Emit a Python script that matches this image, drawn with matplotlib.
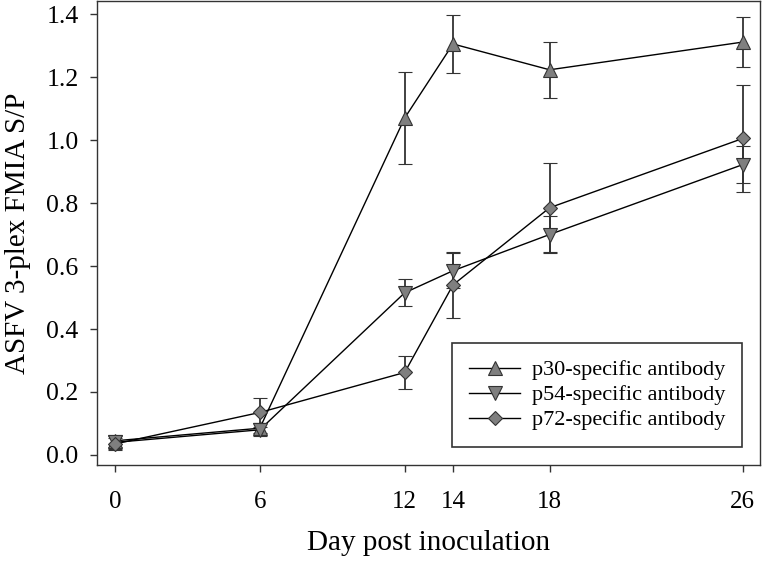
import numpy as np
import matplotlib.pyplot as plt

plt.rcParams['font.family'] = ['Liberation Serif', 'DejaVu Serif']

days = [0, 6, 12, 14, 18, 26]

p30 = [0.045, 0.085, 1.07, 1.305, 1.223, 1.311]
p30_err = [0.02, 0.015, 0.147, 0.093, 0.088, 0.08]

p54 = [0.04, 0.08, 0.515, 0.585, 0.70, 0.922]
p54_err = [0.02, 0.02, 0.043, 0.055, 0.06, 0.058]

p72 = [0.035, 0.135, 0.262, 0.54, 0.785, 1.005]
p72_err = [0.018, 0.045, 0.053, 0.105, 0.142, 0.17]

xticks = [0, 6, 12, 14, 18, 26]
yticks = [0.0, 0.2, 0.4, 0.6, 0.8, 1.0, 1.2, 1.4]

fig = plt.figure(figsize=(7.62, 5.61), dpi=100)
ax = fig.add_axes([0.127, 0.171, 0.870, 0.827])

series = [
    (p30, p30_err, '^', 'p30-specific antibody'),
    (p54, p54_err, 'v', 'p54-specific antibody'),
    (p72, p72_err, 'D', 'p72-specific antibody'),
]
for vals, err, mk, lab in series:
    ms = 7 if mk == 'D' else 9.5
    ax.errorbar(days, vals, yerr=err, color='black', lw=1.0,
                ecolor='#333333', elinewidth=1.3, capsize=5, capthick=1.3,
                marker=mk, markersize=ms, markerfacecolor='#7f7f7f',
                markeredgecolor='#333333', markeredgewidth=0.8, label=lab)

ax.set_xlim(-0.75, 26.7)
ax.set_ylim(-0.032, 1.441)
ax.set_xticks(xticks)
ax.set_yticks(yticks)
ax.set_yticklabels(['%.1f' % v for v in yticks])
ax.tick_params(direction='out', length=5, width=1, color='#333333')
ax.tick_params(axis='x', labelsize=18, pad=14)
ax.tick_params(axis='y', labelsize=18.5, pad=8)
for s in ax.spines.values():
    s.set_linewidth(1.0)
    s.set_color('#333333')

ax.set_xlabel('Day post inoculation', fontsize=21, labelpad=12)
ax.set_ylabel('ASFV 3-plex FMIA S/P', fontsize=21, labelpad=11)

handles, labels = ax.get_legend_handles_labels()
handles = [h[0] for h in handles]
leg = ax.legend(handles, labels, loc='lower right', fontsize=16,
                handlelength=2.3, handletextpad=0.55, fancybox=False,
                framealpha=1, edgecolor='#333333', borderpad=0.75,
                labelspacing=0.2, borderaxespad=0,
                bbox_to_anchor=(0.974, 0.039))
leg.get_frame().set_linewidth(1.2)

fig.savefig('out.png', dpi=100)
